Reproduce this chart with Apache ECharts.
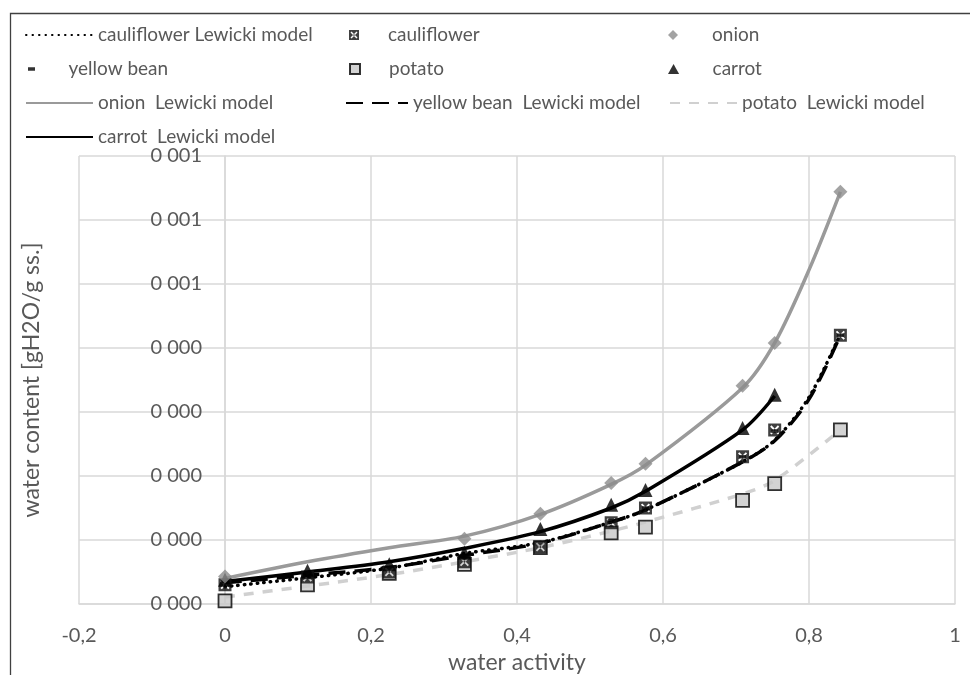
<!DOCTYPE html>
<html>
<head>
<meta charset="utf-8">
<script src="https://cdn.jsdelivr.net/npm/echarts@6/dist/echarts.min.js"></script>
<style>html,body{margin:0;padding:0;background:#fff}#c{width:970px;height:675px}</style>
</head>
<body>
<div id="c"></div>
<script>
// water activity of the saturated salt solutions
const aw = [0, 0.113, 0.225, 0.328, 0.432, 0.529, 0.576, 0.709, 0.753, 0.843];
const awOnion = [0, 0.328, 0.432, 0.529, 0.576, 0.709, 0.753, 0.843];
const awCarrot = [0, 0.113, 0.225, 0.328, 0.432, 0.529, 0.576, 0.709, 0.753];
const awModel = [0, 0.113, 0.225, 0.328, 0.432, 0.529, 0.576, 0.709, 0.753, 0.8, 0.843];
const awCarrotModel = [0, 0.113, 0.225, 0.328, 0.432, 0.529, 0.576, 0.709, 0.753];

// measured water content [gH2O/g ss.]
const onion = [0.43e-4, 1.02e-4, 1.41e-4, 1.89e-4, 2.19e-4, 3.41e-4, 4.08e-4, 6.44e-4];
const carrot = [0.38e-4, 0.52e-4, 0.62e-4, 0.80e-4, 1.17e-4, 1.55e-4, 1.78e-4, 2.75e-4, 3.27e-4];
const cauliflower = [0.30e-4, 0.42e-4, 0.50e-4, 0.66e-4, 0.89e-4, 1.27e-4, 1.50e-4, 2.30e-4, 2.72e-4, 4.20e-4];
const yellowBean = [0.35e-4, 0.47e-4, 0.55e-4, 0.70e-4, 0.93e-4, 1.30e-4, 1.50e-4, 2.30e-4, 2.70e-4, 4.20e-4];
const potato = [0.05e-4, 0.30e-4, 0.48e-4, 0.62e-4, 0.88e-4, 1.11e-4, 1.20e-4, 1.62e-4, 1.88e-4, 2.72e-4];

// Lewicki model curves
const onionModel = [0.40e-4, 0.66e-4, 0.88e-4, 1.06e-4, 1.40e-4, 1.87e-4, 2.17e-4, 3.38e-4, 4.08e-4, 5.22e-4, 6.44e-4];
const carrotModel = [0.35e-4, 0.50e-4, 0.66e-4, 0.87e-4, 1.13e-4, 1.50e-4, 1.76e-4, 2.72e-4, 3.25e-4];
const cauliflowerModel = [0.27e-4, 0.41e-4, 0.56e-4, 0.79e-4, 0.96e-4, 1.28e-4, 1.47e-4, 2.22e-4, 2.56e-4, 3.23e-4, 4.22e-4];
const yellowBeanModel = [0.33e-4, 0.45e-4, 0.57e-4, 0.76e-4, 0.95e-4, 1.28e-4, 1.47e-4, 2.22e-4, 2.55e-4, 3.20e-4, 4.20e-4];
const potatoModel = [0.11e-4, 0.28e-4, 0.46e-4, 0.66e-4, 0.88e-4, 1.14e-4, 1.28e-4, 1.72e-4, 1.93e-4, 2.72e-4];

// tick labels
const xTickLabels = ['-0,2', '0', '0,2', '0,4', '0,6', '0,8', '1'];
const yTickLabels = ['0 000', '0 000', '0 000', '0 000', '0 000', '0 001', '0 001', '0 001'];

// legend layout: rows of three columns
const legendRows = [
  ['cauliflower Lewicki model', 'cauliflower', 'onion'],
  ['yellow bean', 'potato', 'carrot'],
  ['onion  Lewicki model', 'yellow bean  Lewicki model', 'potato  Lewicki model'],
  ['carrot  Lewicki model']
];

const zip = (xs, ys) => xs.map((x, i) => [x, ys[i]]);
const FONT = 'Lato';
const TXT = '#595959';

const SYM = {
  cauli: 'path://M0,0L10,0L10,10L0,10Z M1.5,2.5L7.5,8.5L8.5,7.5L2.5,1.5Z M8.5,2.5L7.5,1.5L1.5,7.5L2.5,8.5Z',
  square: 'path://M0,0L10,0L10,10L0,10Z',
  diamond: 'path://M5,0L10,5L5,10L0,5Z',
  triangle: 'path://M5,0L10,9L0,9Z',
  dash: 'path://M0,0L2,0L2,1L0,1Z'
};

function modelLine(name, xs, ys, color, type, width, cap) {
  return {
    name, type: 'line', data: zip(xs, ys), smooth: 0.3,
    symbol: 'none', z: 2,
    lineStyle: { color, width, type, cap: cap || 'butt' },
    itemStyle: { color }
  };
}

const series = [
  modelLine('potato  Lewicki model', aw, potatoModel, '#d0d0d0', [10, 9], 3.5),
  modelLine('onion  Lewicki model', awModel, onionModel, '#9a9a9a', 'solid', 3.5),
  modelLine('carrot  Lewicki model', awCarrotModel, carrotModel, '#000', 'solid', 3.5),
  modelLine('yellow bean  Lewicki model', awModel, yellowBeanModel, '#000', [17, 9], 3.5),
  modelLine('cauliflower Lewicki model', awModel, cauliflowerModel, '#000', [0.5, 6], 3.5, 'round'),
  { name: 'yellow bean', type: 'scatter', data: zip(aw, yellowBean), symbol: SYM.dash,
    symbolSize: [7, 3.5], itemStyle: { color: '#000' }, z: 3 },
  { name: 'potato', type: 'scatter', data: zip(aw, potato), symbol: SYM.square, symbolSize: 13,
    itemStyle: { color: '#c8c8c8', borderColor: '#000', borderWidth: 1.8 }, z: 3 },
  { name: 'cauliflower', type: 'scatter', data: zip(aw, cauliflower), symbol: SYM.cauli,
    symbolSize: 13, itemStyle: { color: '#111' }, z: 4 },
  { name: 'carrot', type: 'scatter', data: zip(awCarrot, carrot), symbol: SYM.triangle,
    symbolSize: 14, itemStyle: { color: '#000' }, z: 4 },
  { name: 'onion', type: 'scatter', data: zip(awOnion, onion), symbol: SYM.diamond,
    symbolSize: 14, itemStyle: { color: '#8c8c8c' }, z: 5 }
];

// legend columns: icon centre / text start
const colIconCenter = [60, 378, 702];
const colTextStart = [97, 412, 741];
const rowCenter = [35, 69, 103, 137];
const legendIconH = { 'yellow bean': 3.5, 'potato': 10, 'cauliflower': 10, 'carrot': 10, 'onion': 10 };

const legends = [];
legendRows.forEach((row, r) => {
  row.forEach((name, c) => {
    const isLine = /model/.test(name);
    const W = isLine ? (c === 1 ? 62 : 67) : 2 * (colTextStart[c] - 5 - colIconCenter[c]);
    const L = isLine ? colTextStart[c] - 5 - W : colIconCenter[c] - W / 2;
    const lg = {
      data: [name], left: L, top: rowCenter[r] - 11, padding: 0,
      itemWidth: W, itemHeight: isLine ? 10 : legendIconH[name],
      selectedMode: false,
      textStyle: { color: TXT, fontFamily: FONT, fontSize: 19, lineHeight: 22 }
    };
    if (isLine) lg.itemStyle = { opacity: 0 };
    legends.push(lg);
  });
});

const chart = echarts.init(document.getElementById('c'));
chart.setOption({
  animation: false,
  backgroundColor: '#fff',
  textStyle: { fontFamily: FONT },
  graphic: [{
    type: 'rect', shape: { x: 10.5, y: 13.5, width: 990, height: 700 },
    style: { fill: 'none', stroke: '#404040', lineWidth: 1.3 }, silent: true, z: -1
  }],
  legend: legends,
  grid: { left: 79, right: 15, top: 156, bottom: 71, containLabel: false, outerBoundsMode: 'none' },
  xAxis: {
    type: 'value', min: -0.2, max: 1, interval: 0.2,
    name: 'water activity', nameLocation: 'middle', nameGap: 47,
    nameTextStyle: { color: TXT, fontSize: 23, fontFamily: FONT },
    axisLine: { show: true, onZero: false, lineStyle: { color: '#d9d9d9', width: 1.5 } },
    axisTick: { show: false },
    axisLabel: { color: TXT, fontSize: 20, fontFamily: FONT, margin: 22,
      formatter: v => xTickLabels[Math.round((v + 0.2) / 0.2)] },
    splitLine: { show: true, lineStyle: { color: '#d9d9d9', width: 1.5 } }
  },
  yAxis: {
    type: 'value', min: 0, max: 0.0007, interval: 0.0001,
    name: 'water content [gH2O/g ss.]', nameLocation: 'middle', nameGap: 36,
    nameRotate: 90,
    nameTextStyle: { color: TXT, fontSize: 23, fontFamily: FONT },
    axisLine: { show: true, lineStyle: { color: '#d9d9d9', width: 1.5 } },
    axisTick: { show: false },
    axisLabel: { color: TXT, fontSize: 20, fontFamily: FONT, margin: -123,
      formatter: v => yTickLabels[Math.round(v / 0.0001)] },
    splitLine: { show: true, lineStyle: { color: '#d9d9d9', width: 1.5 } }
  },
  series
});
</script>
</body>
</html>
